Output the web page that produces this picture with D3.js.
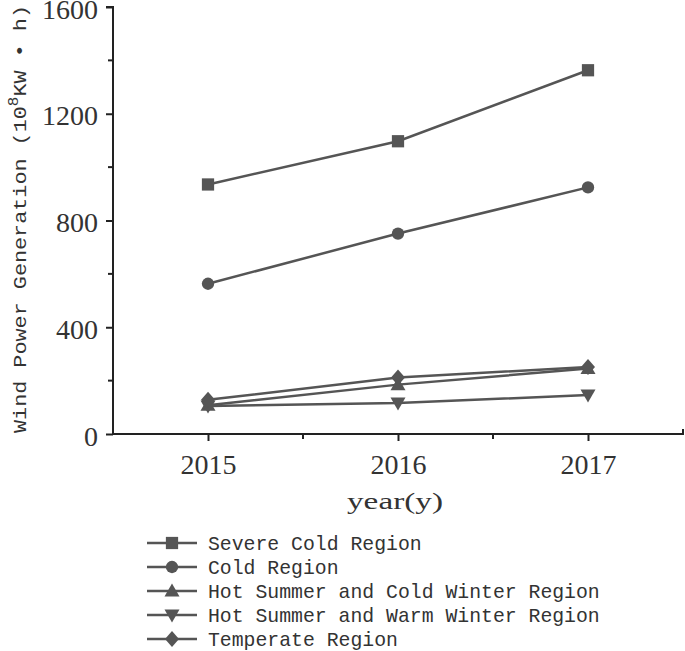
<!DOCTYPE html>
<html>
<head>
<meta charset="utf-8">
<script src="https://cdn.jsdelivr.net/npm/d3@7/dist/d3.min.js"></script>
<style>
  html, body { margin: 0; padding: 0; background: #fff; }
  svg { display: block; }
</style>
</head>
<body>
<svg id="chart" width="685" height="651"></svg>
<script>
const years = [2015, 2016, 2017];
const severeCold = [935, 1097, 1363];
const cold = [563, 751, 924];
const hotSummerColdWinter = [108, 185, 245];
const hotSummerWarmWinter = [105, 116, 146];
const temperate = [128, 212, 251];
const seriesNames = ["Severe Cold Region", "Cold Region", "Hot Summer and Cold Winter Region", "Hot Summer and Warm Winter Region", "Temperate Region"];
const seriesSymbols = ["square", "circle", "triangle", "triangleDown", "diamond"];
const yTicks = [0, 400, 800, 1200, 1600];
const yMinorTicks = [200, 600, 1000, 1400];
const xMinorTicks = [2015.5, 2016.5];

const seriesValues = [severeCold, cold, hotSummerColdWinter, hotSummerWarmWinter, temperate];
const series = seriesNames.map((n, i) => ({ name: n, sym: seriesSymbols[i], values: years.map((y, j) => ({ x: y, y: seriesValues[i][j] })) }));

const svg = d3.select("#chart");
const ink = "#555";
const axisInk = "#222";
const x = d3.scaleLinear().domain([2014.5, 2017.5]).range([113, 683]);
const y = d3.scaleLinear().domain([0, 1600]).range([434, 7]);

function symbolPath(sym) {
  switch (sym) {
    case "square": return d3.symbol(d3.symbolSquare, 150)();
    case "circle": return d3.symbol(d3.symbolCircle, 120)();
    case "triangle": return "M0,-7.5L7.5,5.5L-7.5,5.5Z";
    case "triangleDown": return "M0,7.5L7.5,-5.5L-7.5,-5.5Z";
    case "diamond": return "M0,-8L7,0L0,8L-7,0Z";
  }
}

// axes
const gx = svg.append("g").attr("transform", `translate(0,${y(0)})`)
  .call(d3.axisBottom(x).tickValues(years).tickFormat(d3.format("d")).tickSize(7).tickPadding(12));
gx.select(".domain").attr("stroke", axisInk).attr("stroke-width", 2).attr("d", `M${x.range()[0]},0H${x.range()[1]}V-5`);
gx.selectAll(".tick line").attr("stroke", axisInk).attr("stroke-width", 2);
gx.selectAll(".tick text").attr("font-family", "'Liberation Serif', serif").attr("font-size", 28).attr("fill", "#333").attr("dy", "0.75em");
gx.selectAll(".minor").data(xMinorTicks).enter().append("line")
  .attr("x1", d => x(d)).attr("x2", d => x(d)).attr("y1", 0).attr("y2", 5)
  .attr("stroke", axisInk).attr("stroke-width", 2);

const gy = svg.append("g").attr("transform", `translate(${x(2014.5)},0)`)
  .call(d3.axisLeft(y).tickValues(yTicks).tickFormat(d3.format("d")).tickSize(7).tickPadding(8));
gy.select(".domain").attr("stroke", axisInk).attr("stroke-width", 2).attr("d", `M-7,${y(1600)}H0V${y(0)}`);
gy.selectAll(".tick line").attr("stroke", axisInk).attr("stroke-width", 2);
gy.selectAll(".tick text").attr("font-family", "'Liberation Serif', serif").attr("font-size", 28).attr("fill", "#333").attr("dy", "0.4em");
gy.selectAll(".minor").data(yMinorTicks).enter().append("line")
  .attr("x1", -5).attr("x2", 0).attr("y1", d => y(d)).attr("y2", d => y(d))
  .attr("stroke", axisInk).attr("stroke-width", 2);

// axis titles
svg.append("text").attr("x", 395).attr("y", 509).attr("text-anchor", "middle")
  .attr("font-family", "'Liberation Serif', serif").attr("font-size", 23).attr("fill", "#333")
  .attr("textLength", 96).attr("lengthAdjust", "spacingAndGlyphs")
  .text("year(y)");

const yl = svg.append("text").attr("transform", "translate(26,433) rotate(-90)")
  .attr("font-family", "'Liberation Mono', monospace").attr("font-size", 19).attr("fill", "#333")
  .attr("textLength", 428).attr("lengthAdjust", "spacingAndGlyphs");
yl.append("tspan").text("Wind Power Generation (10");
yl.append("tspan").attr("dy", -8).attr("font-size", 14).text("8");
yl.append("tspan").attr("dy", 8).text("KW \u2022 h)");

// lines
const line = d3.line().x(d => x(d.x)).y(d => y(d.y));
const g = svg.append("g");
series.forEach(s => {
  g.append("path").datum(s.values).attr("d", line).attr("fill", "none").attr("stroke", ink).attr("stroke-width", 2.5);
});
series.forEach(s => {
  g.selectAll(null).data(s.values).enter().append("path")
    .attr("transform", d => `translate(${x(d.x)},${y(d.y)})`)
    .attr("d", symbolPath(s.sym)).attr("fill", ink);
});

// legend
const lg = svg.append("g");
series.forEach((s, i) => {
  const cy = 543 + i * 24;
  lg.append("line").attr("x1", 147).attr("x2", 197).attr("y1", cy).attr("y2", cy).attr("stroke", ink).attr("stroke-width", 2.5);
  lg.append("path").attr("transform", `translate(172,${cy})`).attr("d", symbolPath(s.sym)).attr("fill", ink);
  lg.append("text").attr("x", 208).attr("y", cy).attr("dy", "0.35em")
    .attr("font-family", "'Liberation Mono', monospace").attr("font-size", 19.8).attr("fill", "#333")
    .text(s.name);
});
</script>
</body>
</html>
